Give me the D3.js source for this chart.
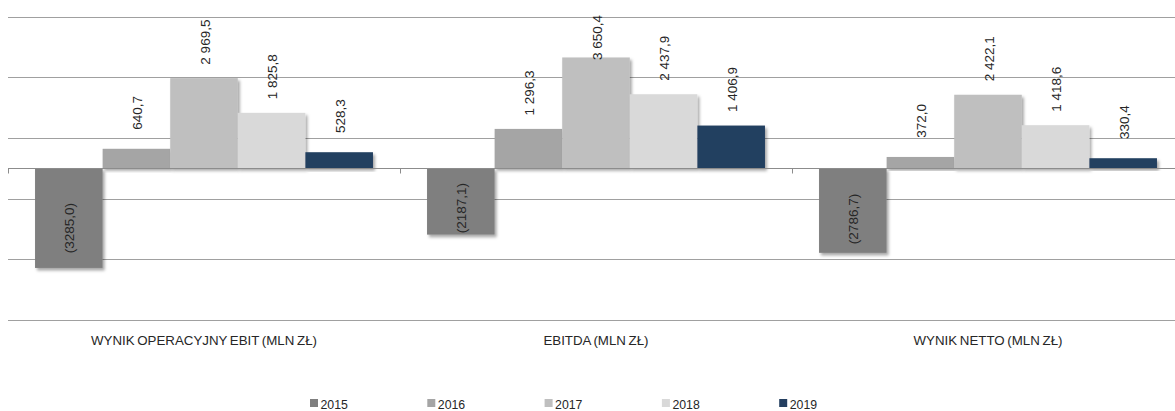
<!DOCTYPE html>
<html>
<head>
<meta charset="utf-8">
<style type="text/css">
    body { margin: 0; background: #fff; }
    text { font-family: "Liberation Sans", Arial, sans-serif; fill: #262626; }
    .grid line { stroke: #a0a0a0; stroke-width: 1; }
    .cat { font-size: 13.3px; word-spacing: -1px; }
    .val { font-size: 13.5px; }
    .leg { font-size: 12.3px; }
</style>
</head>
<body>
<svg id="chart" width="1175" height="411"></svg>
<script src="https://cdn.jsdelivr.net/npm/d3@7"></script>
<script type="text/javascript">
// chart data
var categories = ["WYNIK OPERACYJNY EBIT (MLN ZŁ)", "EBITDA (MLN ZŁ)", "WYNIK NETTO (MLN ZŁ)"];
var years = ["2015", "2016", "2017", "2018", "2019"];
var v2015 = [-3285.0, -2187.1, -2786.7];
var v2016 = [640.7, 1296.3, 372.0];
var v2017 = [2969.5, 3650.4, 2422.1];
var v2018 = [1825.8, 2437.9, 1418.6];
var v2019 = [528.3, 1406.9, 330.4];
var gridTicks = [-5000, -3000, -1000, 1000, 3000, 5000];
var colors = ["#7f7f7f", "#a5a5a5", "#bfbfbf", "#d9d9d9", "#243f60"];

var series = [v2015, v2016, v2017, v2018, v2019];
var rows = [];
categories.forEach(function(c, i) {
    years.forEach(function(y, j) {
        rows.push({cat: c, year: y, value: series[j][i]});
    });
});

var svg = d3.select("#chart");

var x0 = d3.scaleBand().domain(categories).range([8, 1184]).padding(0);
var x1 = d3.scaleBand().domain(years).range([0, x0.bandwidth()])
    .paddingInner(0).paddingOuter(0.4);
var y = d3.scaleLinear().domain([-5000, 5000]).range([320, 16.5]);
var color = d3.scaleOrdinal().domain(years).range(colors);

var pl = d3.formatLocale({decimal: ",", thousands: " ", grouping: [3], currency: ["", " zł"]});
var fmtPos = pl.format(",.1f");
var fmtNeg = pl.format(".1f");
function label(v) {
    return v < 0 ? "(" + fmtNeg(-v) + ")" : fmtPos(v);
}

var defs = svg.append("defs");
var f = defs.append("filter").attr("id", "shadow")
    .attr("x", "-20%").attr("y", "-20%").attr("width", "140%").attr("height", "140%");
f.append("feDropShadow").attr("dx", 2).attr("dy", 2.5)
    .attr("stdDeviation", 1.8).attr("flood-color", "#000").attr("flood-opacity", 0.35);

// gridlines
svg.append("g").attr("class", "grid")
    .selectAll("line")
    .data(gridTicks)
    .enter().append("line")
    .attr("x1", 8).attr("x2", 1175)
    .attr("y1", function(d) { return Math.round(y(d)) + 0.5; })
    .attr("y2", function(d) { return Math.round(y(d)) + 0.5; });

// bars
svg.append("g")
    .selectAll("rect")
    .data(rows)
    .enter().append("rect")
    .attr("x", function(d) { return x0(d.cat) + x1(d.year); })
    .attr("width", x1.bandwidth())
    .attr("y", function(d) { return y(Math.max(0, d.value)); })
    .attr("height", function(d) { return Math.abs(y(d.value) - y(0)); })
    .attr("fill", function(d) { return color(d.year); })
    .attr("filter", "url(#shadow)");

// zero axis with category ticks
var zy = Math.round(y(0)) + 0.5;
var axis = svg.append("g");
axis.append("line")
    .attr("x1", 8).attr("x2", 1175).attr("y1", zy).attr("y2", zy)
    .attr("stroke", "#8c8c8c");
axis.selectAll("line.tk")
    .data(categories)
    .enter().append("line").attr("class", "tk")
    .attr("x1", function(d) { return Math.round(x0(d)) + 0.5; })
    .attr("x2", function(d) { return Math.round(x0(d)) + 0.5; })
    .attr("y1", zy).attr("y2", zy + 5)
    .attr("stroke", "#8c8c8c");

// value labels
var vals = svg.append("g")
    .selectAll("text")
    .data(rows)
    .enter().append("text")
    .attr("class", "val")
    .attr("text-anchor", "middle")
    .attr("dominant-baseline", "central")
    .text(function(d) { return label(d.value); });

vals.attr("transform", function(d) {
    var cx = x0(d.cat) + x1(d.year) + x1.bandwidth() / 2 + 1;
    var len = this.getComputedTextLength();
    var cy;
    if (d.value >= 0) {
        cy = y(d.value) - 36;
        cy = Math.max(cy, 15 + len / 2);
    } else {
        cy = y(d.value * 0.6);
    }
    return "translate(" + cx + "," + cy + ") rotate(-90)";
});

// category labels
svg.append("g")
    .selectAll("text")
    .data(categories)
    .enter().append("text")
    .attr("class", "cat")
    .attr("text-anchor", "middle")
    .attr("x", function(d) { return x0(d) + x0.bandwidth() / 2; })
    .attr("y", 344.5)
    .text(function(d) { return d; });

// legend
var leg = svg.append("g")
    .selectAll("g")
    .data(years)
    .enter().append("g")
    .attr("transform", function(d, i) { return "translate(" + (310 + i * 117.3) + ",399)"; });
leg.append("rect")
    .attr("width", 8).attr("height", 8)
    .attr("fill", function(d) { return color(d); });
leg.append("text")
    .attr("class", "leg")
    .attr("x", 10.5).attr("y", 9.5)
    .text(function(d) { return d; });
</script>
</body>
</html>
